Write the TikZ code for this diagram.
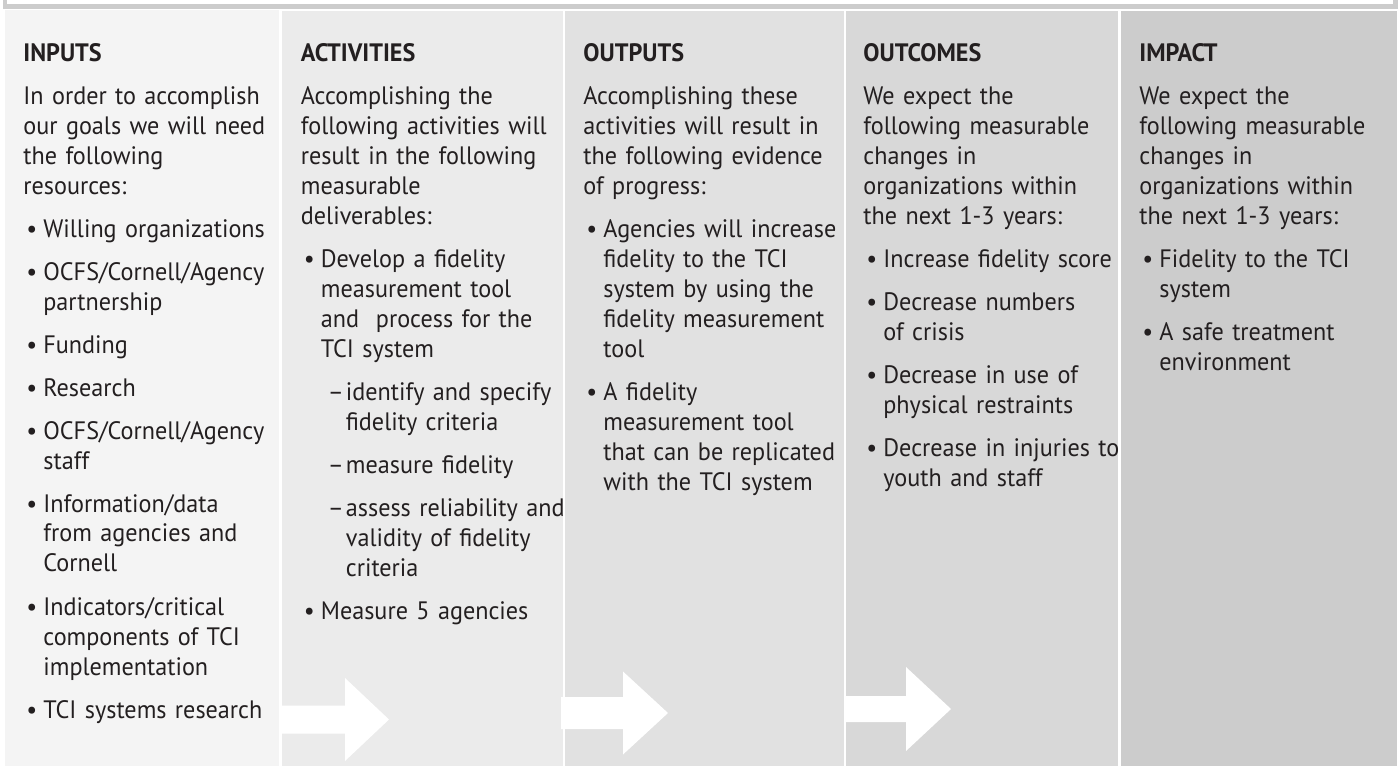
\documentclass[tikz,border=0pt]{standalone}
\usepackage{fontspec}
\setmainfont[FakeStretch=0.96]{PT Sans}

\definecolor{ink}{HTML}{231F20}
\definecolor{rule}{HTML}{CCCCCC}
\definecolor{stageA}{HTML}{F4F4F4}
\definecolor{stageB}{HTML}{EBEBEB}
\definecolor{stageC}{HTML}{E1E1E1}
\definecolor{stageD}{HTML}{D8D8D8}
\definecolor{stageE}{HTML}{CCCCCC}

\setlength{\parskip}{0pt}
\hyphenpenalty=10000
\newlength{\itemgap}
\setlength{\itemgap}{6.5pt}
\newlength{\stagewidth}
\setlength{\stagewidth}{160pt}

\newcommand{\lmhead}[1]{{\bfseries #1}\par\vspace{\itemgap}}
\newcommand{\lmpoint}[1]{\par\vspace{\itemgap}\hangindent=10pt\hangafter=1\noindent\makebox[10pt][l]{\hspace{1.5pt}\textbullet}#1\par}
\newcommand{\lmsub}[1]{\par\vspace{\itemgap}\hangindent=22.5pt\hangafter=1\noindent\hspace*{13.5pt}\makebox[9pt][l]{--}#1\par}

\tikzset{
    stage/.style={anchor=base west, inner sep=0pt, text width=\stagewidth, align=left,
        font=\fontsize{12.6pt}{15pt}\selectfont, text=ink},
    flow/.style={fill=white}
}

\begin{document}
\begin{tikzpicture}[x=0.5pt, y=-0.5pt]
    \useasboundingbox (0,0) rectangle (1398,766);
    \draw[rule, fill=white, line width=2.25pt] (5,-30) rectangle (1395.5,6.5);

    \foreach \xl/\xr/\yt/\shade in {5/279/10/stageA, 282/563/11/stageB, 565/844/11/stageC, 846/1118/11/stageD, 1121/1397/11/stageE}
        \fill[\shade] (\xl,\yt) rectangle (\xr,766);

    \foreach \xa/\xb/\xc/\ym/\hb/\hh in {282/345/389/719.5/14/41.5, 561/623/668/713/16/41.5, 845/906/951/709/13/42}
        \fill[flow] (\xa,\ym-\hb) -- (\xb,\ym-\hb) -- (\xb,\ym-\hh) -- (\xc,\ym)
            -- (\xb,\ym+\hh) -- (\xb,\ym+\hb) -- (\xa,\ym+\hb) -- cycle;

    \node[stage] (inputs) at (23,61) {\lmhead{INPUTS}
        In order to accomplish\newline our goals we will need\newline the following\newline resources:
        \lmpoint{Willing organizations}
        \lmpoint{OCFS/Cornell/Agency\newline partnership}
        \lmpoint{Funding}
        \lmpoint{Research}
        \lmpoint{OCFS/Cornell/Agency\newline staff}
        \lmpoint{Information/data\newline from agencies and\newline Cornell}
        \lmpoint{Indicators/critical\newline components of TCI\newline implementation}
        \lmpoint{TCI systems research}};

    \node[stage] (activities) at (300.5,61) {\lmhead{ACTIVITIES}
        Accomplishing the\newline following activities will\newline result in the following\newline measurable\newline deliverables:
        \lmpoint{Develop a fidelity\newline measurement tool\newline and\ \ process for the\newline TCI system}
        \lmsub{identify and specify\newline fidelity criteria}
        \lmsub{measure fidelity}
        \lmsub{assess reliability and\newline validity of fidelity\newline criteria}
        \lmpoint{Measure 5 agencies}};

    \node[stage] (outputs) at (583,61) {\lmhead{OUTPUTS}
        Accomplishing these\newline activities will result in\newline the following evidence\newline of progress:
        \lmpoint{Agencies will increase\newline fidelity to the TCI\newline system by using the\newline fidelity measurement\newline tool}
        \lmpoint{A fidelity\newline measurement tool\newline that can be replicated\newline with the TCI system}};

    \node[stage] (outcomes) at (863,61) {\lmhead{OUTCOMES}
        We expect the\newline following measurable\newline changes in\newline organizations within\newline the next 1-3 years:
        \lmpoint{Increase fidelity score}
        \lmpoint{Decrease numbers\newline of crisis}
        \lmpoint{Decrease in use of\newline physical restraints}
        \lmpoint{Decrease in injuries to\newline youth and staff}};

    \node[stage] (impact) at (1139,61) {\lmhead{IMPACT}
        We expect the\newline following measurable\newline changes in\newline organizations within\newline the next 1-3 years:
        \lmpoint{Fidelity to the TCI\newline system}
        \lmpoint{A safe treatment\newline environment}};
\end{tikzpicture}
\end{document}
